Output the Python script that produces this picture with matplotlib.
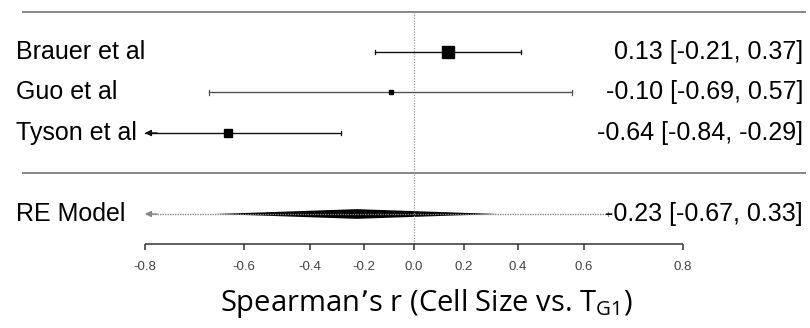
import numpy as np
import matplotlib.pyplot as plt

# study level results (Spearman's r), drawn on Fisher z scale
studies = ['Brauer et al', 'Guo et al', 'Tyson et al']
est = [0.138, -0.094, -0.641]
ci_lo = [-0.158, -0.684, -0.84]
ci_hi = [0.411, 0.568, -0.29]
weights = [52, 9, 39]
study_txt = ['0.13 [-0.21, 0.37]', '-0.10 [-0.69, 0.57]', '-0.64 [-0.84, -0.29]']

# random effects summary
re_est = -0.23
re_lo = -0.67
re_hi = 0.33
pi_lo = -0.92
pi_hi = 0.66
re_txt = '-0.23 [-0.67, 0.33]'

ticks_r = [-0.8, -0.6, -0.4, -0.2, 0.0, 0.2, 0.4, 0.6, 0.8]

z = np.arctanh
zmin, zmax = z(-0.8), z(0.8)

plt.rcParams['font.family'] = ['Liberation Sans', 'DejaVu Sans']

fig = plt.figure(figsize=(8.1, 3.28), dpi=100)
ax = fig.add_axes([0, 0, 1, 1])
ax.set_xlim(-1.690, 1.617)
ax.set_ylim(-3.815, 4.284)

rows = np.arange(len(studies), 0, -1)

# horizontal rules + reference line
ax.hlines([4, 0], -1.6, 1.6, color='#666666', lw=1.1)
ax.vlines(0, -1.74, 4, color='#999999', lw=0.9, linestyles=(0, (1, 1.2)))

wmin, wmax = min(weights), max(weights)
for r, e, lo, hi, w, lab, txt in zip(rows, est, ci_lo, ci_hi, weights, studies, study_txt):
    zl, zh = z(lo), z(hi)
    col = '#111111' if w > 20 else '#555555'
    left = max(zl, zmin)
    ax.plot([left, zh], [r, r], color=col, lw=1.0)
    ax.plot([zh, zh], [r - 0.06, r + 0.06], color=col, lw=0.9)
    if zl < zmin:
        ax.annotate('', xy=(zmin, r), xytext=(zmin + 0.05, r),
                    arrowprops=dict(arrowstyle='-|>', color='#111111', lw=1.0,
                                    mutation_scale=9, shrinkA=0, shrinkB=0))
    else:
        ax.plot([zl, zl], [r - 0.06, r + 0.06], color=col, lw=0.9)
    size = 2.5 + 5.5 * (w - wmin) / (wmax - wmin)
    ax.plot(z(e), r, marker='s', ms=size, color='black', mec='black')
    ax.text(-1.625, r, lab, ha='left', va='center', fontsize=18)
    ax.text(1.588, r, txt, ha='right', va='center', fontsize=18)

# prediction interval + diamond
ry = -1
ax.plot([zmin + 0.03, z(pi_hi)], [ry, ry], color='#888888', lw=1.0, ls=(0, (1, 0.8)))
ax.annotate('', xy=(zmin, ry), xytext=(zmin + 0.05, ry),
            arrowprops=dict(arrowstyle='-|>', color='#888888', lw=1.0,
                            mutation_scale=9, shrinkA=0, shrinkB=0))
ax.plot([z(pi_hi), z(pi_hi)], [ry - 0.04, ry + 0.04], color='#888888', lw=0.8)
h = 0.12
ax.fill([z(re_lo), z(re_est), z(re_hi), z(re_est)],
        [ry, ry + h, ry, ry - h], color='black', lw=0)
ax.text(-1.625, ry, 'RE Model', ha='left', va='center', fontsize=18)
ax.text(1.588, ry, re_txt, ha='right', va='center', fontsize=18)

# x axis on z scale, labelled in r
ax.axis('off')
ya = -1.74
ax.hlines(ya, zmin, zmax, color='#333333', lw=1.1)
for t in ticks_r:
    ax.vlines(z(t), ya - 0.16, ya, color='#333333', lw=1.1)
    ax.text(z(t), ya - 0.56, f'{t:.1f}', ha='center', va='center',
            fontsize=9.5, color='#444444')

ax.text(0.05, -3.22, "Spearman\u2019s r (Cell Size vs. T$_{\\mathregular{G1}}$)",
        ha='center', va='center', fontsize=21, family=['Open Sans', 'DejaVu Sans'])

fig.savefig('out.png', dpi=100)
